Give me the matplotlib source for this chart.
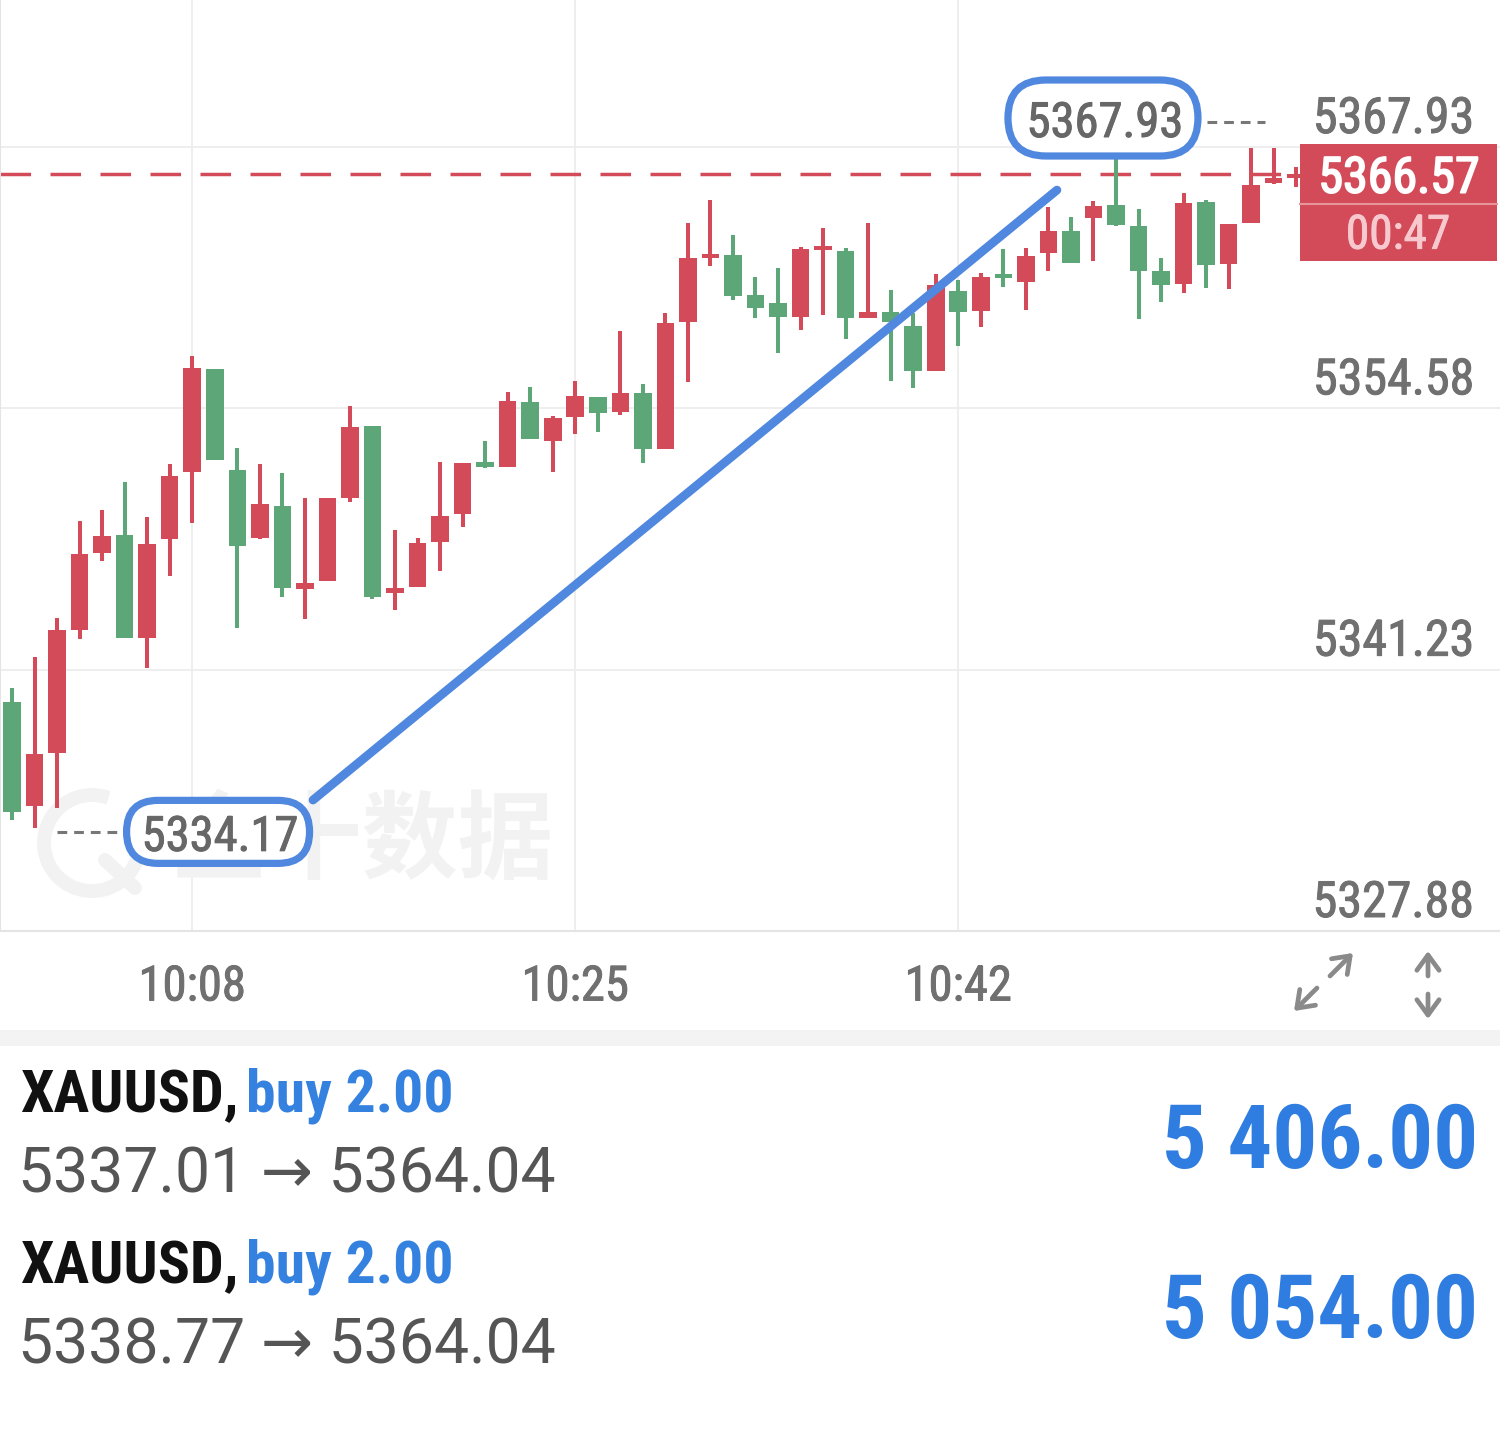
"""Gold 1-minute candles with two open buy positions (MT5 mobile style)."""

import numpy as np
import matplotlib
matplotlib.use('Agg')
import matplotlib.pyplot as plt
import matplotlib.patheffects as pe
import matplotlib.transforms as mtransforms
from matplotlib import font_manager
from matplotlib.lines import Line2D
from matplotlib.patches import Rectangle, FancyBboxPatch, Arc


# candles, 10:00 .. 10:57 (1 minute each)
OPEN = [5339.58, 5334.26, 5336.97, 5343.26, 5347.19, 5348.11, 5342.85, 5347.90, 5351.33, 5356.59,
        5351.43, 5347.96, 5349.59, 5345.35, 5345.76, 5350.00, 5353.68, 5345.15, 5345.45, 5347.75,
        5349.18, 5351.84, 5351.58, 5354.90, 5352.91, 5354.14, 5355.16, 5354.39, 5355.36, 5352.50,
        5358.99, 5362.26, 5362.41, 5360.37, 5359.96, 5359.25, 5362.67, 5362.62, 5359.19, 5359.50,
        5358.79, 5356.49, 5360.57, 5359.55, 5361.34, 5361.03, 5362.51, 5363.64, 5364.30, 5364.97,
        5363.89, 5361.60, 5360.93, 5365.12, 5361.95, 5364.05, 5366.09, 5366.35]
HIGH = [5340.29, 5341.88, 5343.87, 5348.82, 5349.39, 5350.82, 5349.03, 5351.74, 5357.25, 5356.59,
        5352.55, 5351.74, 5351.28, 5350.00, 5350.00, 5354.70, 5353.68, 5348.36, 5347.96, 5351.84,
        5351.79, 5352.91, 5355.41, 5355.67, 5354.19, 5355.98, 5355.16, 5358.53, 5355.82, 5359.45,
        5364.05, 5365.22, 5363.43, 5361.29, 5361.75, 5362.82, 5363.79, 5362.77, 5364.05, 5360.62,
        5359.45, 5361.44, 5361.14, 5361.49, 5362.72, 5362.77, 5364.86, 5364.35, 5365.17, 5367.93,
        5364.76, 5362.26, 5365.58, 5365.22, 5364.00, 5367.88, 5367.90, 5366.91]
LOW = [5333.55, 5333.14, 5334.16, 5342.80, 5346.78, 5342.85, 5341.31, 5346.01, 5348.72, 5351.94,
       5343.36, 5347.90, 5344.94, 5343.82, 5345.76, 5349.79, 5344.84, 5344.28, 5345.45, 5346.27,
       5348.52, 5351.53, 5351.58, 5353.01, 5351.33, 5353.27, 5353.37, 5354.24, 5351.79, 5352.50,
       5355.92, 5361.85, 5360.11, 5359.19, 5357.41, 5358.58, 5359.35, 5358.12, 5359.19, 5355.98,
       5355.62, 5356.49, 5357.76, 5358.73, 5360.78, 5359.60, 5361.60, 5362.00, 5362.11, 5363.89,
       5359.14, 5360.01, 5360.47, 5360.73, 5360.68, 5364.05, 5366.04, 5365.89]
CLOSE = [5333.96, 5336.92, 5343.26, 5347.14, 5348.06, 5342.85, 5347.65, 5351.12, 5356.64, 5351.94,
         5347.55, 5349.69, 5345.40, 5345.66, 5350.00, 5353.63, 5344.94, 5345.40, 5347.70, 5349.08,
         5351.79, 5351.58, 5354.95, 5353.01, 5354.09, 5355.21, 5354.34, 5355.36, 5352.50, 5358.94,
         5362.26, 5362.41, 5360.32, 5359.71, 5359.25, 5362.72, 5362.77, 5359.19, 5359.50, 5358.99,
         5356.49, 5360.88, 5359.50, 5361.29, 5361.24, 5362.36, 5363.64, 5362.00, 5364.92, 5363.95,
         5361.60, 5360.88, 5365.07, 5361.90, 5364.00, 5365.99, 5366.35, 5366.57]

TIME_IDX = [8, 25, 42]
TIME_LABELS = ['10:08', '10:25', '10:42']
Y_TICKS = [5367.93, 5354.58, 5341.23, 5327.88]

LAST_PRICE = 5366.57
COUNTDOWN = '00:47'
HIGH_IDX, HIGH_MARK = 49, 5367.93
LOW_IDX, LOW_MARK = 2, 5334.17

# hand drawn trend line (candle index, price)
TREND_X = [13.36, 46.38]
TREND_Y = [5334.57, 5365.73]

# open positions
SYMBOLS = ['XAUUSD,', 'XAUUSD,']
SIDES = ['buy 2.00', 'buy 2.00']
ENTRY = ['5337.01', '5338.77']
EXIT = ['5364.04', '5364.04']
PROFIT = ['5 406.00', '5 054.00']

RED = '#D34B58'
GREEN = '#5DA677'
BLUE = '#5088DF'
TEXT_BLUE = '#2F7DE1'
AXIS_GREY = '#707070'
GRID = '#EDEDED'
WATERMARK = '#F2F2F2'


def condensed_font():
    """Pick a narrow family if one is installed."""
    fonts = font_manager.fontManager.ttflist
    names = {f.name for f in fonts}
    narrow = {f.name for f in fonts if 'condensed' in str(f.stretch)}
    if 'Roboto Condensed' in names:
        return 'Roboto Condensed', 'normal'
    if 'Roboto' in narrow:
        return 'Roboto', 'condensed'
    if 'Liberation Sans Narrow' in names:
        return 'Liberation Sans Narrow', 'normal'
    if 'DejaVu Sans' in narrow:
        return 'DejaVu Sans', 'condensed'
    return 'Roboto', 'normal'


def semibold(color, width=0.7):
    """Thicken a regular face a little (no medium weight installed)."""
    return [pe.withStroke(linewidth=width, foreground=color)]


def main():
    family, stretch = condensed_font()
    plt.rcParams['font.family'] = [family, 'DejaVu Sans']
    plt.rcParams['font.stretch'] = stretch
    plt.rcParams['lines.scale_dashes'] = False

    W, H = 1500, 1429
    plot_bottom, grid_top = 931, 147
    x0, step = 12, 22.53
    k = (plot_bottom - grid_top) / (Y_TICKS[0] - Y_TICKS[-1])
    ytop = Y_TICKS[0] + grid_top / k

    def xpx(i):
        return x0 + i * step

    def ypx(p):
        return (ytop - p) * k

    fig = plt.figure(figsize=(W / 100, H / 100), dpi=100)
    fig.patch.set_facecolor('white')
    pxT = mtransforms.Affine2D().scale(1 / W, -1 / H).translate(0, 1) + fig.transFigure

    ax = fig.add_axes([0, 1 - plot_bottom / H, 1, plot_bottom / H])
    ax.set_xlim(-x0 / step, (W - x0) / step)
    ax.set_ylim(Y_TICKS[-1], ytop)
    ax.set_axisbelow(True)
    for side in ['top', 'right']:
        ax.spines[side].set_visible(False)
    for side in ['left', 'bottom']:
        ax.spines[side].set_color('#E4E4E4')
        ax.spines[side].set_linewidth(1.5)

    # grid and axes labels
    ax.set_yticks(Y_TICKS)
    ax.tick_params(axis='y', length=0, labelleft=False)
    ax.set_xticks(TIME_IDX, TIME_LABELS)
    ax.tick_params(axis='x', length=0, pad=50, labelsize=35, labelcolor=AXIS_GREY)
    for lab in ax.get_xticklabels():
        lab.set_va('baseline')
        lab.set_path_effects(semibold(AXIS_GREY))
    ax.grid(True, color=GRID, lw=1.3)
    for p in Y_TICKS:
        ax.annotate(f'{p:.2f}', xy=(1, p), xycoords=('axes fraction', 'data'),
                    xytext=(-26, 14), textcoords='offset pixels', ha='right',
                    va='baseline', fontsize=36, color=AXIS_GREY,
                    path_effects=semibold(AXIS_GREY))

    # watermark
    ax.text(362, 843, '金十数据', transform=pxT, ha='center', va='center',
            fontsize=69, fontweight='bold', color=WATERMARK, clip_on=False,
            family=['Noto Sans CJK SC', 'DejaVu Sans'], zorder=0.6)
    ax.add_patch(Arc((92, 843), 96, 96, theta1=-20, theta2=290, transform=pxT,
                     lw=10, color=WATERMARK, clip_on=False, zorder=0.6))
    ax.add_line(Line2D([105, 135], [860, 888], transform=pxT, lw=10,
                       color=WATERMARK, clip_on=False, zorder=0.6,
                       solid_capstyle='round'))

    # candles
    o, h, l, c = map(np.asarray, (OPEN, HIGH, LOW, CLOSE))
    x = np.arange(len(o))
    colors = np.where(c >= o, RED, GREEN)
    ax.vlines(x, l, h, colors=colors, lw=2.9, zorder=2)
    ax.bar(x, np.maximum(np.abs(c - o), 4 / k), bottom=np.minimum(o, c),
           width=0.78, color=colors, linewidth=0, zorder=2.1)

    # current price line
    ax.axhline(LAST_PRICE, xmin=0, xmax=1300 / W, color=RED, lw=2.5,
               dashes=(22, 14), zorder=1.5)

    # hand drawn trend line
    ax.plot(TREND_X, TREND_Y, color=BLUE, lw=6.3, solid_capstyle='round', zorder=4)

    # high / low bubbles
    hx, hy = xpx(HIGH_IDX) - 13, ypx(HIGH_MARK) - 29
    lx, ly = xpx(LOW_IDX) + 161, ypx(LOW_MARK) + 24
    for (cx, cy, bw, bh, txt) in [(hx, hy, 190, 76, f'{HIGH_MARK:.2f}'),
                                  (lx, ly, 183, 63, f'{LOW_MARK:.2f}')]:
        fig.add_artist(FancyBboxPatch((cx - bw / 2, cy - bh / 2), bw, bh,
                                      boxstyle=f'round,pad=0,rounding_size={bh / 2}',
                                      transform=pxT, fc='white', ec=BLUE, lw=5.2,
                                      zorder=5))
        fig.text(cx + 2, cy + 19, txt, transform=pxT, ha='center', va='baseline',
                 fontsize=35, color='#676767', zorder=6,
                 path_effects=semibold('#676767'))
    fig.add_artist(Line2D([hx + 104, hx + 162], [hy + 4, hy + 4], transform=pxT,
                          color='#777777', lw=2.2, dashes=(7, 5)))
    fig.add_artist(Line2D([lx - 161, lx - 99], [ly, ly], transform=pxT,
                          color='#777777', lw=2.2, dashes=(7, 5)))

    # last price box
    py = ypx(LAST_PRICE)
    fig.add_artist(Rectangle((1300, py - 30), 197, 117, transform=pxT, fc=RED,
                             ec='none', zorder=5))
    fig.add_artist(Line2D([1300, 1497], [py + 30, py + 30], transform=pxT,
                          color='#E8959C', lw=1.5, zorder=6))
    fig.text(1399, py + 19, f'{LAST_PRICE:.2f}', transform=pxT, ha='center',
             va='baseline', fontsize=36, color='white', zorder=7,
             path_effects=semibold('white', 1.3))
    fig.text(1398, py + 75, COUNTDOWN, transform=pxT, ha='center',
             va='baseline', fontsize=34, color='#F7C9CE', zorder=7,
             path_effects=semibold('#F7C9CE'))

    # chart tool icons
    arrow = dict(arrowstyle='->,head_length=0.55,head_width=0.4', lw=3.4,
                 color='#8A8A8A', shrinkA=0, shrinkB=0, mutation_scale=20)
    for tip, tail in [((1353, 953), (1330, 976)), ((1294, 1011), (1317, 988)),
                      ((1428, 951), (1428, 976)), ((1428, 1019), (1428, 994))]:
        ax.annotate('', xy=tip, xytext=tail, xycoords=pxT, textcoords=pxT,
                    arrowprops=arrow, annotation_clip=False)

    # separator and positions list
    fig.add_artist(Rectangle((0, 1030), W, 16, transform=pxT, fc='#F3F3F3',
                             ec='none', zorder=1))
    for row, (sym, side, e0, e1, pnl) in enumerate(zip(SYMBOLS, SIDES, ENTRY,
                                                       EXIT, PROFIT)):
        dy = row * 171
        t1 = fig.text(20, 1112 + dy, sym, transform=pxT, va='baseline',
                      fontsize=43, fontweight='bold', color='#111111')
        ax.annotate(side, xy=(1, 0), xycoords=t1, xytext=(8, 0),
                    textcoords='offset pixels', va='bottom',
                    fontsize=43, fontweight='bold', color='#3581E0',
                    annotation_clip=False)
        fig.text(18, 1193 + dy, f'{e0} \u2192 {e1}', transform=pxT,
                 va='baseline', fontsize=45, color='#555555',
                 family=['Roboto', 'DejaVu Sans'], stretch='normal')
        fig.text(1478, 1168 + dy - (dy > 0) * 1, pnl, transform=pxT, ha='right',
                 va='baseline', fontsize=64, fontweight='bold', color=TEXT_BLUE)

    fig.savefig('out.png', dpi=100, facecolor='white')


if __name__ == '__main__':
    main()
